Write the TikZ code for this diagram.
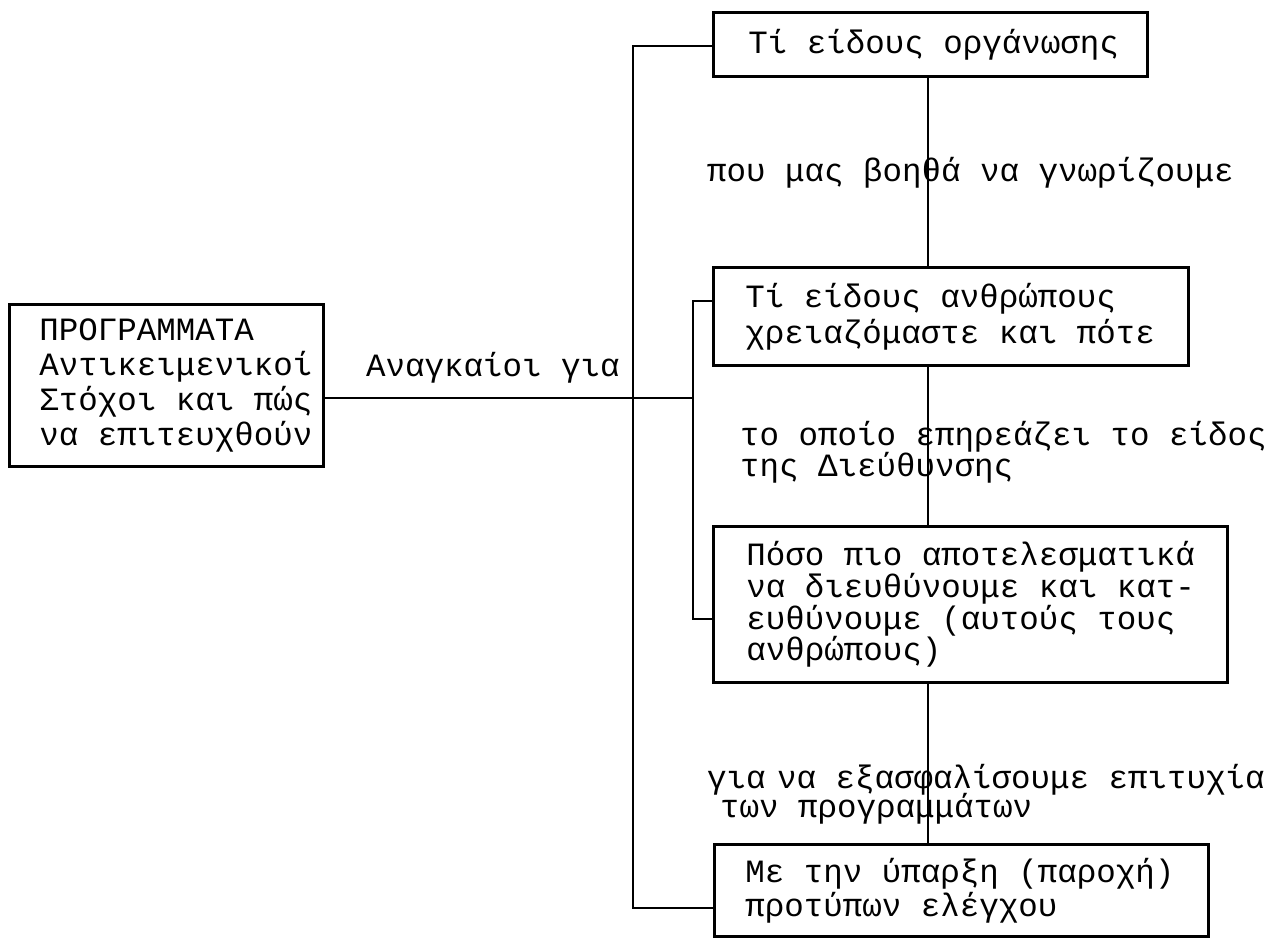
\documentclass[tikz,border=0pt]{standalone}
\usepackage{fontspec}
\setmainfont{Liberation Mono}
\hfuzz=200pt
\hbadness=10000
\newcommand{\natsp}{\spaceskip=0pt\xspaceskip=0pt\relax}
\begin{document}
\begin{tikzpicture}[x=1pt,y=-1pt,
  box/.style={draw, line width=2.6pt, rectangle, align=left, anchor=north west, inner ysep=0pt,
    font=\fontsize{32.5pt}{33pt}\selectfont},
  lbl/.style={anchor=base west, inner sep=0pt, font=\fontsize{32.5pt}{33pt}\selectfont},
  conn/.style={line width=2.2pt},
  vconn/.style={line width=1.6pt}]
\useasboundingbox (0,0) rectangle (1285,937);
% boxes
\node[box, minimum width=314pt, minimum height=162pt, text width=254pt, inner xsep=30pt,
  font=\fontsize{32.5pt}{35pt}\selectfont] (L) at (8,303)
  {\natsp\mbox{ΠΡΟΓΡΑΜΜΑΤΑ}\\\mbox{Αντικειμενικοί}\\\mbox{Στόχοι και πώς}\\\mbox{να επιτευχθούν}};
\node[box, minimum width=434pt, minimum height=64pt, text width=364pt, inner xsep=35pt] (B1) at (712,11)
  {\natsp\mbox{Τί είδους οργάνωσης}};
\node[box, minimum width=475pt, minimum height=98pt, text width=411pt, inner xsep=32pt,
  font=\fontsize{32.5pt}{36pt}\selectfont] (B2) at (712,266)
  {\natsp\mbox{Τί είδους ανθρώπους}\\\mbox{χρειαζόμαστε και πότε}};
\node[box, minimum width=514pt, minimum height=156pt, text width=448pt, inner xsep=33pt,
  font=\fontsize{32.5pt}{30pt}\selectfont] (B3) at (712,525)
  {\natsp\mbox{Πόσο πιο αποτελεσματικά}\\\mbox{να διευθύνουμε και κατ-}\\\mbox{ευθύνουμε (αυτούς τους}\\\mbox{ανθρώπους)}};
\node[box, minimum width=494pt, minimum height=92pt, text width=432pt, inner xsep=31pt,
  font=\fontsize{32.5pt}{34pt}\selectfont] (B5) at (713,843)
  {\natsp\mbox{Με την ύπαρξη (παροχή)}\\\mbox{προτύπων ελέγχου}};
% labels
\node[lbl] (a) at (366,376) {Αναγκαίοι για};
\node[lbl] (b) at (707,181) {που μας βοηθά να γνωρίζουμε};
\node[lbl] (c1) at (740,445) {το οποίο επηρεάζει το είδος};
\node[lbl] (c2) at (740,476) {της Διεύθυνσης};
\node[lbl] (d1) at (707,788) {για\hspace{-8pt} να εξασφαλίσουμε επιτυχία};
\node[lbl] (d2) at (720,817) {των προγραμμάτων};
% connector points
\coordinate (o1) at (633,46);
\coordinate (o2) at (633,908);
\coordinate (i1) at (693,301);
\coordinate (i2) at (693,619);
\coordinate (m) at (693,398);
\coordinate (v) at (928,0);
% connectors
\draw[conn] (B1.west |- o1) -- (o1) -- (o2) -- (B5.west |- o2);
\draw[conn] (B2.west |- i1) -- (i1) -- (i2) -- (B3.west |- i2);
\draw[conn] (L.east |- m) -- (m);
\draw[vconn] (B1.south -| v) -- (B2.north -| v);
\draw[vconn] (B2.south -| v) -- (B3.north -| v);
\draw[vconn] (B3.south -| v) -- (B5.north -| v);
\end{tikzpicture}
\end{document}
